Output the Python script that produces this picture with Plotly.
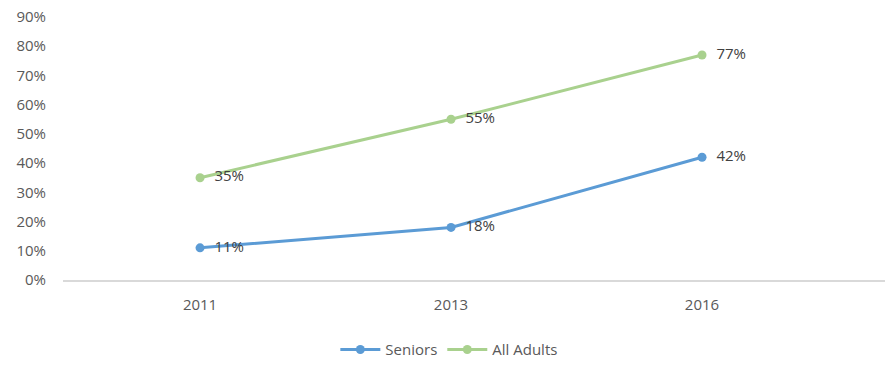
import plotly.graph_objects as go

years = ["2011", "2013", "2016"]
seniors = [11, 18, 42]
all_adults = [35, 55, 77]
y_ticks = [0, 10, 20, 30, 40, 50, 60, 70, 80, 90]

BLUE = "#5b9bd5"
GREEN = "#a9d18e"
FONT = "Open Sans, Liberation Sans, sans-serif"
NBSP = "\u00a0"

fig = go.Figure()
for name, vals, color in [("Seniors", seniors, BLUE), ("All Adults", all_adults, GREEN)]:
    fig.add_trace(go.Scatter(
        x=years, y=vals, name=name, mode="lines+markers+text",
        line=dict(color=color, width=3),
        marker=dict(color=color, size=9),
        text=[f"{NBSP * 2}{v}%" for v in vals],
        textposition="middle right",
        textfont=dict(family=FONT, size=15, color="#404040"),
        cliponaxis=False,
    ))

fig.update_layout(
    width=886, height=368,
    margin=dict(l=63, r=1, t=17, b=88),
    paper_bgcolor="white", plot_bgcolor="white",
    showlegend=True,
    legend=dict(orientation="h", x=0.47, xanchor="center", y=-0.265, yanchor="middle",
                font=dict(family=FONT, size=15, color="#595959"),
                itemwidth=40, tracegroupgap=0),
    xaxis=dict(
        type="category", range=[-0.546, 2.729],
        showgrid=False, showline=True, linecolor="#d9d9d9", linewidth=1.5,
        ticks="", tickfont=dict(family=FONT, size=15, color="#595959"),
        ticklabelstandoff=10, zeroline=False,
    ),
    yaxis=dict(
        range=[0, 90], tickvals=y_ticks, ticktext=[f"{v}%" for v in y_ticks],
        showgrid=False, showline=False, zeroline=False,
        tickfont=dict(family=FONT, size=15, color="#595959"),
        ticklabelstandoff=16,
    ),
)

fig.write_html("out.html")
